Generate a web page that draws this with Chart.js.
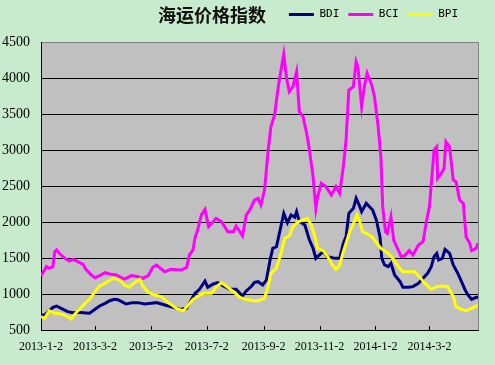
<!DOCTYPE html>
<html><head><meta charset="utf-8">
<script src="https://cdn.jsdelivr.net/npm/chart.js@4/dist/chart.umd.min.js"></script>
<style>html,body{margin:0;padding:0;background:#C7EBCC;} #wrap{width:495px;height:365px;}</style>
</head><body><div id="wrap"><canvas id="c" width="495" height="365"></canvas></div>
<script>
const chartTitle = '海运价格指数';
const seriesNames = ['BDI', 'BCI', 'BPI'];
const axisStart = '2013-01-02';
const axisEnd = '2014-04-24';
const tickDates = ['2013-01-02','2013-03-02','2013-05-02','2013-07-02','2013-09-02','2013-11-02','2014-01-02','2014-03-02'];
const tickLabels = ['2013-1-2','2013-3-2','2013-5-2','2013-7-2','2013-9-2','2013-11-2','2014-1-2','2014-3-2'];
const yTicks = [500,1000,1500,2000,2500,3000,3500,4000,4500];

const bdiDates = ['2013-01-02','2013-01-06','2013-01-10','2013-01-15','2013-01-19','2013-01-24','2013-01-31','2013-02-06','2013-02-11','2013-02-17','2013-02-24','2013-03-02','2013-03-07','2013-03-13','2013-03-18','2013-03-23','2013-03-27','2013-04-02','2013-04-05','2013-04-12','2013-04-18','2013-04-25','2013-05-02','2013-05-08','2013-05-17','2013-05-26','2013-06-04','2013-06-10','2013-06-13','2013-06-19','2013-06-24','2013-06-30','2013-07-03','2013-07-09','2013-07-14','2013-07-20','2013-07-27','2013-08-03','2013-08-10','2013-08-14','2013-08-20','2013-08-23','2013-08-27','2013-09-01','2013-09-05','2013-09-09','2013-09-12','2013-09-16','2013-09-20','2013-09-24','2013-09-28','2013-10-02','2013-10-06','2013-10-08','2013-10-11','2013-10-17','2013-10-22','2013-10-26','2013-10-29','2013-11-02','2013-11-06','2013-11-11','2013-11-19','2013-11-24','2013-11-28','2013-12-01','2013-12-04','2013-12-09','2013-12-12','2013-12-16','2013-12-18','2013-12-23','2013-12-30','2014-01-03','2014-01-07','2014-01-09','2014-01-12','2014-01-16','2014-01-19','2014-01-23','2014-01-29','2014-02-01','2014-02-07','2014-02-12','2014-02-18','2014-02-23','2014-02-28','2014-03-04','2014-03-07','2014-03-10','2014-03-12','2014-03-16','2014-03-19','2014-03-24','2014-03-28','2014-04-02','2014-04-06','2014-04-10','2014-04-13','2014-04-17','2014-04-22','2014-04-24'];
const bdiValues = [708,708,755,815,833,801,755,741,745,741,732,787,833,870,907,926,921,880,861,880,880,861,870,880,847,815,787,801,870,1009,1065,1180,1093,1139,1157,1111,1065,1065,972,1042,1111,1162,1171,1125,1194,1472,1634,1657,1889,2120,1990,2097,2065,2143,2005,1958,1750,1634,1495,1542,1588,1519,1495,1495,1704,1796,2120,2190,2329,2213,2143,2259,2167,2028,1796,1495,1403,1380,1426,1264,1171,1093,1093,1102,1148,1218,1287,1380,1519,1565,1472,1495,1620,1565,1403,1287,1171,1056,986,926,954,954];

const bciDates = ['2013-01-02','2013-01-08','2013-01-11','2013-01-15','2013-01-17','2013-01-19','2013-01-22','2013-01-28','2013-02-02','2013-02-06','2013-02-11','2013-02-17','2013-02-20','2013-02-26','2013-03-02','2013-03-07','2013-03-13','2013-03-18','2013-03-25','2013-04-03','2013-04-11','2013-04-18','2013-04-23','2013-04-29','2013-05-04','2013-05-08','2013-05-17','2013-05-24','2013-06-04','2013-06-10','2013-06-13','2013-06-17','2013-06-19','2013-06-22','2013-06-26','2013-06-30','2013-07-04','2013-07-09','2013-07-12','2013-07-18','2013-07-25','2013-07-31','2013-08-03','2013-08-07','2013-08-10','2013-08-14','2013-08-18','2013-08-23','2013-08-27','2013-08-30','2013-09-03','2013-09-07','2013-09-10','2013-09-14','2013-09-18','2013-09-21','2013-09-24','2013-09-27','2013-09-30','2013-10-04','2013-10-08','2013-10-11','2013-10-15','2013-10-19','2013-10-22','2013-10-26','2013-10-29','2013-10-31','2013-11-04','2013-11-09','2013-11-15','2013-11-20','2013-11-24','2013-11-28','2013-12-01','2013-12-04','2013-12-09','2013-12-12','2013-12-14','2013-12-18','2013-12-21','2013-12-24','2013-12-29','2014-01-01','2014-01-05','2014-01-08','2014-01-10','2014-01-13','2014-01-15','2014-01-19','2014-01-22','2014-01-27','2014-01-30','2014-02-03','2014-02-08','2014-02-12','2014-02-18','2014-02-23','2014-02-27','2014-03-02','2014-03-05','2014-03-07','2014-03-10','2014-03-11','2014-03-15','2014-03-18','2014-03-20','2014-03-24','2014-03-28','2014-03-31','2014-04-04','2014-04-08','2014-04-11','2014-04-15','2014-04-17','2014-04-22','2014-04-24'];
const bciValues = [1250,1380,1357,1380,1588,1611,1565,1495,1458,1480,1450,1412,1342,1264,1227,1255,1296,1278,1264,1208,1255,1241,1218,1255,1370,1403,1310,1342,1333,1370,1542,1611,1773,1889,2097,2176,1935,2005,2051,2005,1866,1866,1944,1866,1806,2097,2167,2305,2329,2236,2444,3000,3324,3486,3880,4111,4333,4000,3810,3880,4088,3532,3463,3231,3000,2630,2190,2352,2537,2491,2375,2491,2398,2768,3139,3833,3880,4227,4150,3602,3880,4065,3903,3741,3324,2907,2213,1866,1843,2074,1750,1611,1519,1530,1602,1542,1681,1727,2028,2213,2676,3000,3046,2606,2676,2745,3116,3046,2583,2560,2305,2259,1796,1704,1602,1634,1704];

const bpiDates = ['2013-01-02','2013-01-06','2013-01-11','2013-01-17','2013-01-24','2013-01-30','2013-02-04','2013-02-08','2013-02-13','2013-02-19','2013-02-24','2013-03-02','2013-03-07','2013-03-13','2013-03-18','2013-03-23','2013-03-29','2013-04-03','2013-04-08','2013-04-14','2013-04-20','2013-04-23','2013-04-29','2013-05-06','2013-05-13','2013-05-21','2013-05-30','2013-06-06','2013-06-11','2013-06-17','2013-06-22','2013-06-28','2013-07-07','2013-07-12','2013-07-18','2013-07-23','2013-07-31','2013-08-07','2013-08-14','2013-08-21','2013-08-27','2013-09-03','2013-09-07','2013-09-10','2013-09-16','2013-09-21','2013-09-25','2013-09-30','2013-10-04','2013-10-10','2013-10-15','2013-10-20','2013-10-24','2013-10-28','2013-10-31','2013-11-06','2013-11-11','2013-11-15','2013-11-20','2013-11-24','2013-11-28','2013-12-01','2013-12-05','2013-12-10','2013-12-13','2013-12-16','2013-12-19','2013-12-23','2013-12-29','2014-01-01','2014-01-08','2014-01-16','2014-01-21','2014-01-27','2014-02-01','2014-02-07','2014-02-14','2014-02-19','2014-02-25','2014-03-04','2014-03-10','2014-03-15','2014-03-22','2014-03-28','2014-03-31','2014-04-06','2014-04-11','2014-04-17','2014-04-24'];
const bpiValues = [685,662,768,732,722,694,653,722,787,870,926,1032,1111,1148,1194,1218,1194,1125,1093,1157,1204,1111,1025,986,963,880,801,764,833,926,963,1009,1009,1093,1157,1111,1032,954,926,907,907,940,1102,1287,1357,1565,1773,1806,1935,2005,2028,2051,1958,1796,1634,1602,1519,1426,1342,1403,1588,1704,1866,2005,2097,2005,1866,1843,1796,1750,1634,1565,1495,1380,1310,1310,1310,1241,1148,1065,1102,1111,1102,963,824,787,768,801,847];

function dayNum(s){const p=s.split('-').map(Number);return Date.UTC(p[0],p[1]-1,p[2])/86400000;}
const t0 = dayNum(axisStart);
const toPts = (ds, vs) => ds.map((d, i) => ({x: dayNum(d) - t0, y: vs[i]}));

const bgPlugin = {
  id: 'bgPlugin',
  beforeDraw(chart) {
    const {ctx, chartArea: a} = chart;
    ctx.save();
    ctx.fillStyle = '#C7EBCC';
    ctx.fillRect(0, 0, chart.width, chart.height);
    ctx.fillStyle = '#C0C0C0';
    ctx.fillRect(a.left, a.top, a.right - a.left, a.bottom - a.top);
    ctx.restore();
  },
  beforeDatasetsDraw(chart) {
    const {ctx, chartArea: a} = chart;
    const xs = chart.scales.x;
    ctx.save();
    ctx.strokeStyle = '#808080';
    ctx.lineWidth = 1;
    ctx.beginPath();
    ctx.moveTo(Math.round(a.right) + 0.5, a.top);
    ctx.lineTo(Math.round(a.right) + 0.5, a.bottom);
    ctx.stroke();
    ctx.strokeStyle = '#000';
    ctx.beginPath();
    xs.ticks.forEach((t, i) => {
      if (i === 0) return;
      const px = Math.round(xs.getPixelForValue(t.value)) + 0.5;
      ctx.moveTo(px, a.bottom);
      ctx.lineTo(px, a.bottom - 4);
    });
    ctx.stroke();
    ctx.restore();
  },
  afterLayout(chart) {
    const l = chart.legend;
    if (l) { l.top = 0; l.bottom = 30; l.left = 0; l.right = 467; }
  },
  afterDraw(chart) {
    const ctx = chart.ctx;
    ctx.save();
    ctx.fillStyle = '#111';
    ctx.font = 'bold 18px "Noto Sans CJK SC"';
    ctx.textAlign = 'center';
    ctx.textBaseline = 'middle';
    ctx.fillText(chartTitle, 212, 15);
    ctx.restore();
  }
};

const colors = ['#000080', '#FF00FF', '#FFFF00'];
const allDates = [bdiDates, bciDates, bpiDates];
const allValues = [bdiValues, bciValues, bpiValues];

new Chart(document.getElementById('c'), {
  type: 'line',
  data: {
    datasets: seriesNames.map((n, i) => ({
      label: n,
      data: toPts(allDates[i], allValues[i]),
      borderColor: colors[i],
      backgroundColor: colors[i],
      borderWidth: 3,
      pointRadius: 0,
      tension: 0,
      fill: false,
      order: 3 - i
    }))
  },
  options: {
    responsive: false,
    animation: false,
    devicePixelRatio: 1,
    layout: {padding: {top: 12, right: 17, bottom: 0, left: 0}},
    plugins: {
      legend: {
        position: 'top',
        align: 'end',
        labels: {
          boxWidth: 25,
          boxHeight: 3,
          padding: 9,
          color: '#000',
          font: {family: 'DejaVu Sans Mono', size: 11},
          sort: (a, b) => a.datasetIndex - b.datasetIndex,
          generateLabels: (chart) => Chart.defaults.plugins.legend.labels.generateLabels(chart)
            .map(l => Object.assign({}, l, {fillStyle: l.strokeStyle, lineWidth: 0}))
        }
      },
      title: {display: false},
      tooltip: {enabled: false}
    },
    scales: {
      x: {
        type: 'linear',
        min: 0,
        max: dayNum(axisEnd) - t0,
        afterBuildTicks: (s) => { s.ticks = tickDates.map(d => ({value: dayNum(d) - t0})); },
        afterFit: (s) => { s.height = 35; },
        ticks: {
          autoSkip: false, maxRotation: 0, minRotation: 0, padding: 10,
          color: '#000',
          font: {family: 'Liberation Serif', size: 12},
          callback: (v, i) => tickLabels[i]
        },
        grid: {drawOnChartArea: false, drawTicks: false},
        border: {color: '#000', width: 1}
      },
      y: {
        min: yTicks[0],
        max: yTicks[yTicks.length - 1],
        afterBuildTicks: (s) => { s.ticks = yTicks.map(v => ({value: v})); },
        afterFit: (s) => { s.width = 41; },
        ticks: {
          padding: 11,
          color: '#000',
          font: {family: 'Liberation Serif', size: 14},
          callback: (v) => String(v)
        },
        grid: {
          color: (c) => (c.tick && c.tick.value === yTicks[yTicks.length - 1]) ? '#808080' : '#000',
          lineWidth: 1,
          drawTicks: false
        },
        border: {color: '#000', width: 1}
      }
    }
  },
  plugins: [bgPlugin]
});
</script>
</body></html>
